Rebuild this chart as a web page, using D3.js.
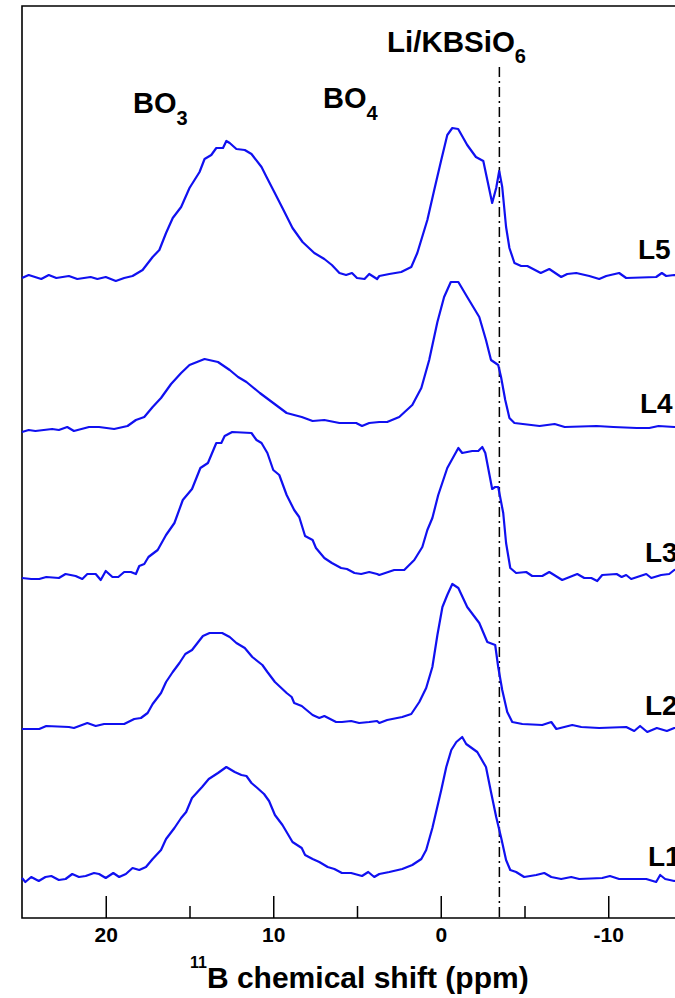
<!DOCTYPE html>
<html>
<head>
<meta charset="utf-8">
<script src="https://cdn.jsdelivr.net/npm/d3@7"></script>
<style>
body { margin: 0; background: #fff; }
svg text { font-family: "Liberation Sans", Arial, sans-serif; font-weight: bold; fill: #000; }
</style>
</head>
<body>
<script>
// 11B MAS NMR spectra, [ppm, intensity]
var l5 = [[25,-2],[24.6,1],[23.85,-3],[23.4,1],[22.95,-2],[22.2,0],[21.7,-3],[20.9,-1],[20.5,-3],[20.0,-1],[19.4,-5],[18.9,-2],[18.4,0],[17.8,6],[17.2,19],[16.8,26],[16.4,43],[16.0,58],[15.5,69],[15.0,88],[14.4,104],[14.1,117],[13.7,121],[13.4,128],[13.0,128],[12.8,135],[12.6,133],[12.2,127],[11.7,126],[11.3,122],[10.7,109],[10.4,99],[10.0,86],[9.45,68],[8.85,48],[8.25,34],[7.55,23],[6.95,17],[6.5,11],[6.05,3],[5.65,1],[5.3,3],[5.0,-2],[4.55,-3],[4.27,2],[3.8,-3],[3.67,0],[3.07,2],[2.36,4],[1.76,9],[1.4,23],[0.8,56],[0.39,86],[-0.03,116],[-0.39,141],[-0.69,148],[-1.04,147],[-1.58,131],[-2.1,119],[-2.54,115],[-2.78,96],[-3.07,73],[-3.31,88],[-3.49,105],[-3.67,89],[-3.9,49],[-4.1,28],[-4.4,13],[-4.8,10],[-5.17,10],[-5.97,3],[-6.48,7],[-7.19,-1],[-7.55,2],[-8.09,3],[-8.87,0],[-9.46,-3],[-9.88,0],[-10.65,3],[-11.07,-2],[-12.86,-1],[-13.2,3],[-13.46,0],[-13.94,1],[-15,0]];
var l4 = [[25,0],[24.6,2],[24.2,1],[23.2,3],[22.8,2],[22.3,5],[21.9,1],[21.0,5],[20.4,5],[19.5,3],[18.7,6],[18.2,12],[17.7,15],[17.2,25],[16.7,34],[16.1,48],[15.5,59],[15.0,67],[14.4,71],[14.1,73],[13.3,70],[12.6,62],[12.1,55],[11.6,50],[10.8,39],[10.0,29],[9.2,19],[8.3,15],[7.65,11],[6.95,12],[6.05,9],[5.6,9],[5.05,9],[4.7,6],[4.27,9],[3.67,10],[3.2,10],[2.48,15],[1.7,27],[1.16,44],[0.69,72],[0.2,110],[-0.2,135],[-0.6,150],[-1.05,150],[-1.58,135],[-2.3,115],[-2.7,92],[-3.0,72],[-3.43,67],[-3.6,55],[-3.85,32],[-4.1,14],[-4.4,9],[-5.9,6],[-6.8,8],[-7.4,5],[-9.3,6],[-10.3,5],[-11.7,4],[-12.45,4],[-13.0,6],[-13.94,5],[-15,5]];
var l3 = [[25,0],[24.45,-1],[23.97,-1],[23.55,1],[22.8,0],[22.4,4],[21.8,2],[21.4,-1],[21.1,4],[20.6,4],[20.3,-2],[20.0,7],[19.6,1],[19.25,1],[18.9,6],[18.5,6],[18.2,4],[18.0,12],[17.7,14],[17.45,21],[16.9,28],[16.4,43],[15.9,55],[15.4,78],[14.85,89],[14.35,110],[13.9,115],[13.4,135],[13.1,135],[12.9,142],[12.45,146],[11.3,145],[11.0,138],[10.7,135],[10.35,125],[10.0,108],[9.64,103],[9.2,83],[8.75,68],[8.45,61],[8.1,42],[7.65,38],[7.45,30],[6.95,20],[6.5,15],[5.95,10],[5.6,9],[5.15,5],[4.75,4],[4.27,6],[3.8,4],[3.67,3],[2.78,8],[2.18,8],[1.58,18],[1.1,31],[0.8,48],[0.5,60],[0.15,83],[-0.39,110],[-1.05,130],[-1.28,125],[-1.88,127],[-2.24,127],[-2.48,131],[-2.66,125],[-3.07,89],[-3.25,91],[-3.43,91],[-3.73,65],[-3.9,35],[-4.15,10],[-4.5,5],[-5.1,6],[-5.46,2],[-6.06,2],[-6.48,6],[-7.25,-2],[-8.15,4],[-8.57,0],[-8.99,0],[-9.34,-3],[-9.64,3],[-10.5,4],[-10.8,1],[-11.07,3],[-11.37,-1],[-12.27,4],[-12.57,0],[-13.16,3],[-13.64,4],[-13.94,8],[-15,10]];
var l2 = [[25,-1],[23.97,-1],[23.55,2],[22.2,1],[21.9,0],[21.1,5],[20.6,2],[20.1,4],[18.9,4],[18.3,9],[17.9,10],[17.5,15],[17.2,24],[16.7,35],[16.4,46],[16.0,56],[15.6,65],[15.25,74],[14.85,78],[14.2,92],[13.8,95],[13.05,95],[12.6,91],[12.2,85],[11.7,80],[11.25,71],[10.65,63],[10.35,56],[9.9,46],[9.2,35],[8.9,31],[8.75,25],[8.3,22],[7.65,13],[7.25,10],[6.95,12],[6.25,6],[5.9,6],[5.35,7],[4.87,5],[4.27,6],[3.8,7],[3.67,5],[3.2,8],[2.3,11],[1.76,14],[1.28,26],[0.87,40],[0.5,61],[0.2,93],[-0.1,121],[-0.39,133],[-0.69,144],[-1.05,140],[-1.58,121],[-2.3,105],[-2.78,86],[-3.25,83],[-3.43,61],[-3.67,38],[-3.97,16],[-4.27,6],[-4.87,4],[-6.06,3],[-6.6,6],[-6.9,-1],[-7.85,3],[-8.39,1],[-9.46,0],[-11.07,1],[-11.55,-3],[-11.9,2],[-12.33,-4],[-12.9,0],[-13.5,-3],[-13.94,0],[-15,0]];
var l1 = [[25,2],[24.8,-2],[24.45,3],[24.0,-1],[23.6,3],[23.25,4],[22.8,0],[22.4,1],[22.0,6],[21.6,3],[21.2,4],[20.7,7],[20.4,6],[20.0,2],[19.55,7],[19.2,3],[18.8,6],[18.4,12],[18.0,10],[17.6,13],[17.2,21],[16.7,30],[16.4,41],[15.9,52],[15.5,62],[15.2,68],[14.85,82],[14.25,93],[13.85,101],[13.3,107],[12.8,113],[12.3,108],[11.9,105],[11.6,104],[11.3,97],[10.95,92],[10.55,86],[10.25,79],[9.9,65],[9.45,55],[8.85,38],[8.3,32],[8.1,25],[7.65,21],[7.25,18],[6.75,13],[6.35,11],[5.9,7],[5.35,7],[4.7,4],[4.33,8],[3.97,3],[3.67,6],[3.07,8],[2.3,11],[1.7,15],[1.16,21],[0.87,30],[0.5,52],[-0.03,90],[-0.33,113],[-0.63,130],[-0.93,138],[-1.28,143],[-1.52,136],[-2.18,128],[-2.7,113],[-3.0,88],[-3.31,63],[-3.61,42],[-3.9,20],[-4.15,10],[-4.5,8],[-4.98,3],[-5.7,5],[-6.18,7],[-6.6,3],[-7.19,1],[-7.79,3],[-8.27,1],[-9.64,2],[-10.1,4],[-10.65,1],[-12.27,1],[-12.86,-2],[-13.1,5],[-13.4,1],[-13.94,-1],[-15,0]];

var spectra = [l1, l2, l3, l4, l5];
var names = ["L1", "L2", "L3", "L4", "L5"];
var offsets = [38, 190, 340, 486, 642];
var majorTicks = [20, 10, 0, -10];
var minorTicks = [15, 5, -5];
var refShift = -3.5;

var width = 675, height = 998;
var svg = d3.select("body").append("svg")
	.attr("width", width)
	.attr("height", height);

var x = d3.scaleLinear().domain([25, -15]).range([22, 692]);
var y = d3.scaleLinear().domain([0, 912]).range([918, 6]);

// frame (right side runs off the page)
svg.append("path")
	.attr("d", "M" + x(-15) + "," + y(912) + "H" + x(25) + "V" + y(0) + "H" + x(-15))
	.attr("fill", "none")
	.attr("stroke", "#000")
	.attr("stroke-width", 1.6);

var gx = svg.append("g").attr("transform", "translate(0," + y(0) + ")");
gx.call(d3.axisBottom(x).tickValues(majorTicks).tickSizeInner(-22).tickSizeOuter(0)
	.tickFormat(function(d){ return String(d); }));
var gm = svg.append("g").attr("transform", "translate(0," + y(0) + ")");
gm.call(d3.axisBottom(x).tickValues(minorTicks).tickSizeInner(-12).tickSizeOuter(0).tickFormat(""));
svg.selectAll(".domain").remove();
svg.selectAll(".tick line").attr("stroke", "#000").attr("stroke-width", 1.5);
gx.selectAll(".tick text")
	.attr("y", 24)
	.attr("dy", null)
	.style("font-size", "21px")
	.style("font-family", "'Liberation Sans', Arial, sans-serif")
	.style("font-weight", "bold");

// reference line
svg.append("line")
	.attr("x1", x(refShift)).attr("x2", x(refShift))
	.attr("y1", 67).attr("y2", y(0))
	.attr("stroke", "#000")
	.attr("stroke-width", 1.5)
	.attr("stroke-dasharray", "10,4,2,4");

spectra.forEach(function(s, i) {
	var off = offsets[i];
	svg.append("path")
		.datum(s)
		.attr("fill", "none")
		.attr("stroke", "#1010f0")
		.attr("stroke-width", 2.2)
		.attr("stroke-linejoin", "round")
		.attr("d", d3.line()
			.x(function(d){ return x(d[0]); })
			.y(function(d){ return y(d[1] + off); }));
});

var labelPos = [[648, 866], [645, 715], [645, 562], [640, 413], [638, 259]];
svg.selectAll(".lab")
	.data(names)
	.enter()
	.append("text")
	.attr("x", function(d, i){ return labelPos[i][0]; })
	.attr("y", function(d, i){ return labelPos[i][1]; })
	.style("font-size", "28px")
	.text(function(d){ return d; });

function sub(xp, yp, main, s, size, subSize, shift) {
	var t = svg.append("text").attr("x", xp).attr("y", yp).style("font-size", size + "px");
	t.append("tspan").text(main);
	t.append("tspan").attr("dy", shift).style("font-size", subSize + "px").text(s);
}
sub(133, 113, "BO", "3", 29, 20, 12);
sub(323, 108, "BO", "4", 29, 20, 12);
sub(387, 52, "Li/KBSiO", "6", 29.5, 20, 11);

// axis title
var tt = svg.append("text").attr("x", 190).attr("y", 988).style("font-size", "30px");
tt.append("tspan").attr("dy", -20).style("font-size", "16px").text("11");
tt.append("tspan").attr("dy", 20).text("B chemical shift (ppm)");
</script>
</body>
</html>
